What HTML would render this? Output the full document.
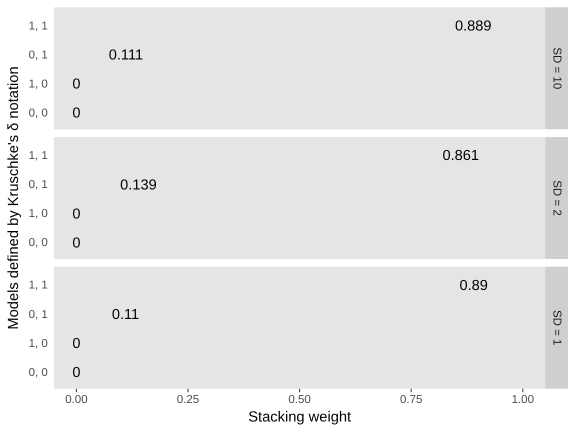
<!DOCTYPE html>
<html>
<head>
<meta charset="utf-8">
<style>
html,body{margin:0;padding:0;background:#fff;width:576px;height:432px;overflow:hidden}
svg{display:block}
text{font-family:"Liberation Sans","DejaVu Sans",sans-serif;text-rendering:geometricPrecision}
</style>
</head>
<body>
<svg id="chart" xmlns="http://www.w3.org/2000/svg" width="576" height="432" viewBox="0 0 576 432"></svg>
<script>
const panels = ['SD = 10', 'SD = 2', 'SD = 1'];
const models = ['0, 0', '1, 0', '0, 1', '1, 1'];
const weightsSd10 = [0, 0, 0.111, 0.889];
const weightsSd2 = [0, 0, 0.139, 0.861];
const weightsSd1 = [0, 0, 0.11, 0.89];
const weightLabelsSd10 = ['0', '0', '0.111', '0.889'];
const weightLabelsSd2 = ['0', '0', '0.139', '0.861'];
const weightLabelsSd1 = ['0', '0', '0.11', '0.89'];
const xTicks = [0, 0.25, 0.5, 0.75, 1];
const xTickLabels = ['0.00', '0.25', '0.50', '0.75', '1.00'];

const allWeights = [weightsSd10, weightsSd2, weightsSd1];
const allLabels = [weightLabelsSd10, weightLabelsSd2, weightLabelsSd1];

const NS = 'http://www.w3.org/2000/svg';
const svg = document.getElementById('chart');
const plotLeft = 54, plotRight = 545.3, stripRight = 568;
const panelTop0 = 7.3, panelHeight = 122, panelStep = 129.7;

function xScale(v) { return 76.4 + v * 446.4; }
function yScale(i, top) {
  const n = models.length;
  const unit = panelHeight / (n - 1 + 1.2);
  return top + panelHeight - (0.6 + i) * unit;
}
function make(tag, attrs, txt) {
  const el = document.createElementNS(NS, tag);
  for (const k in attrs) el.setAttribute(k, attrs[k]);
  if (txt !== undefined) el.textContent = txt;
  svg.appendChild(el);
  return el;
}

panels.forEach(function (panel, p) {
  const top = panelTop0 + p * panelStep;
  const bg = make('rect', {x: plotLeft, y: top, width: plotRight - plotLeft, height: panelHeight, fill: '#E5E5E5'});
  
  
  const strip = make('rect', {x: plotRight, y: top, width: stripRight - plotRight, height: panelHeight, fill: '#CFCFCF'});
  
  
  const cx = (plotRight + stripRight) / 2, cy = top + panelHeight / 2;
  const st = make('text', {x: cx, y: cy, 'font-size': 11.5, fill: '#1A1A1A', 'text-anchor': 'middle', 'dominant-baseline': 'central', transform: 'rotate(90 ' + cx + ' ' + cy + ')'}, panel);
  
  

  models.forEach(function (model, i) {
    const y = yScale(i, top);
    const tick = make('text', {x: 47.8, y: y + 4.6, 'font-size': 11.5, fill: '#4D4D4D', 'text-anchor': 'end'}, model);
    
    
    const val = make('text', {x: xScale(allWeights[p][i]), y: y + 5.8, 'font-size': 14.6, fill: '#000', 'text-anchor': 'middle'}, allLabels[p][i]);
    
    
  });
});

const axisY = panelTop0 + 2 * panelStep + panelHeight;
xTicks.forEach(function (v, i) {
  const x = xScale(v);
  const mark = make('line', {x1: x, x2: x, y1: axisY, y2: axisY + 3.5, stroke: '#333333', 'stroke-width': 1});
  
  
  const lab = make('text', {x: x, y: axisY + 14.5, 'font-size': 11.5, fill: '#4D4D4D', 'text-anchor': 'middle'}, xTickLabels[i]);
  
  
});

const xTitle = make('text', {x: 299.7, y: 421.5, 'font-size': 14.7, fill: '#000', 'text-anchor': 'middle'}, 'Stacking weight');


const yTitle = make('text', {x: 0, y: 0, 'font-size': 14.7, fill: '#000', 'text-anchor': 'middle', transform: 'translate(18 198) rotate(-90)'}, "Models defined by Kruschke's δ notation");


</script>
</body>
</html>
